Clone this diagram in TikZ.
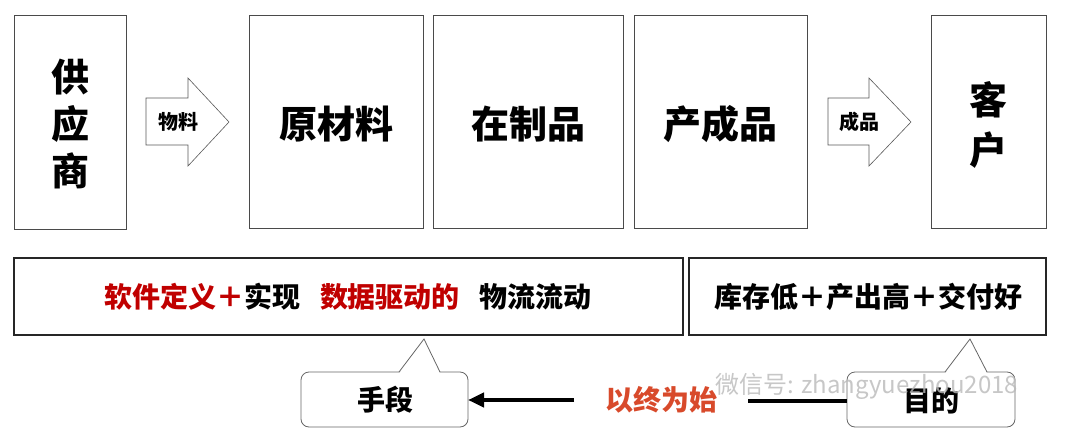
\documentclass[tikz,border=0pt]{standalone}
\usepackage{fontspec}
\setmainfont{Noto Sans CJK SC}
\usetikzlibrary{arrows.meta}
\definecolor{myred}{HTML}{C00000}
\definecolor{myorange}{HTML}{D84A2B}
\definecolor{edgegray}{HTML}{4A4A4A}
\tikzset{
  stage/.style={draw=edgegray, line width=0.9pt, fill=white},
  bigtxt/.style={font=\bfseries\fontsize{38}{47}\selectfont, align=center},
  midtxt/.style={font=\bfseries\fontsize{28}{34}\selectfont},
  smalltxt/.style={font=\bfseries\fontsize{20}{24}\selectfont},
  blockarrow/.style={draw=gray!70!black, line width=0.6pt, fill=white},
  goalbox/.style={draw=black!85, line width=1.4pt},
  callout/.style={draw=gray!80!black, line width=0.8pt, fill=white, rounded corners=8pt},
  flowline/.style={line width=4pt, black},
}
\begin{document}
\begin{tikzpicture}[x=1pt,y=-1pt]
\useasboundingbox (0,0) rectangle (1080,439);
% top stage boxes
\draw[stage] (14,15) rectangle (126,229);
\node[bigtxt] (sup) at (70,124) {供\\应\\商};
\draw[stage] (249,15) rectangle (423,228);
\node[bigtxt] (raw) at (336,124) {原材料};
\draw[stage] (433,15) rectangle (623,228);
\node[bigtxt] (wip) at (528,124) {在制品};
\draw[stage] (634,15) rectangle (807,228);
\node[bigtxt] (fg) at (720,124) {产成品};
\draw[stage] (931,15) rectangle (1046,228);
\node[bigtxt, font=\bfseries\fontsize{38}{50}\selectfont] (cust) at (988,125) {客\\户};
% block arrows
\draw[blockarrow] (146,98) -- (188,98) -- (188,78) -- (229,122) -- (188,166) -- (188,145) -- (146,145) -- cycle;
\node[smalltxt] (mat) at (178,122) {物料};
\draw[blockarrow] (828,98) -- (869,98) -- (869,78) -- (911,122) -- (869,166) -- (869,145) -- (828,145) -- cycle;
\node[smalltxt] (prod) at (859,122) {成品};
% bottom boxes
\draw[goalbox] (14,258) rectangle (683,335);
\node[midtxt] (means) at (348,297) {\textcolor{myred}{软件定义＋}实现\hspace{20pt}\textcolor{myred}{数据驱动的}\hspace{20pt}物流流动};
\draw[goalbox] (689,258) rectangle (1046,335);
\node[midtxt] (goal) at (868,297) {库存低＋产出高＋交付好};
% callout 手段
\draw[callout] (301,372) rectangle (468,427);
\fill[white] (399,373.5) -- (424,339) -- (440,373.5) -- cycle;
\draw[gray!80!black, line width=0.8pt] (399,372) -- (424,339) -- (440,372);
\node[midtxt] (shou) at (385,400) {手段};
\coordinate (shouE) at (468,400);
% callout 目的
\draw[callout] (847,372) rectangle (1015,427);
\fill[white] (945,373.5) -- (970,339) -- (987,373.5) -- cycle;
\draw[gray!80!black, line width=0.8pt] (945,372) -- (970,339) -- (987,372);
\node[midtxt] (mudi) at (931,401) {目的};
\coordinate (mudiW) at (847,401);
% center label and lines
\node[midtxt, text=myorange] (start) at (661,400) {以终为始};
\coordinate (la) at (574,400);
\coordinate (lb) at (748,401);
\draw[flowline, -{Triangle[length=16pt,width=14pt]}] (la) -- (shouE);
\draw[flowline] (lb) -- (mudiW);
% watermark
\node[font=\fontsize{24}{28}\selectfont, text=gray!55, opacity=0.8, anchor=west] (wm) at (712,386) {微信号: zhangyuezhou2018};
\end{tikzpicture}
\end{document}
